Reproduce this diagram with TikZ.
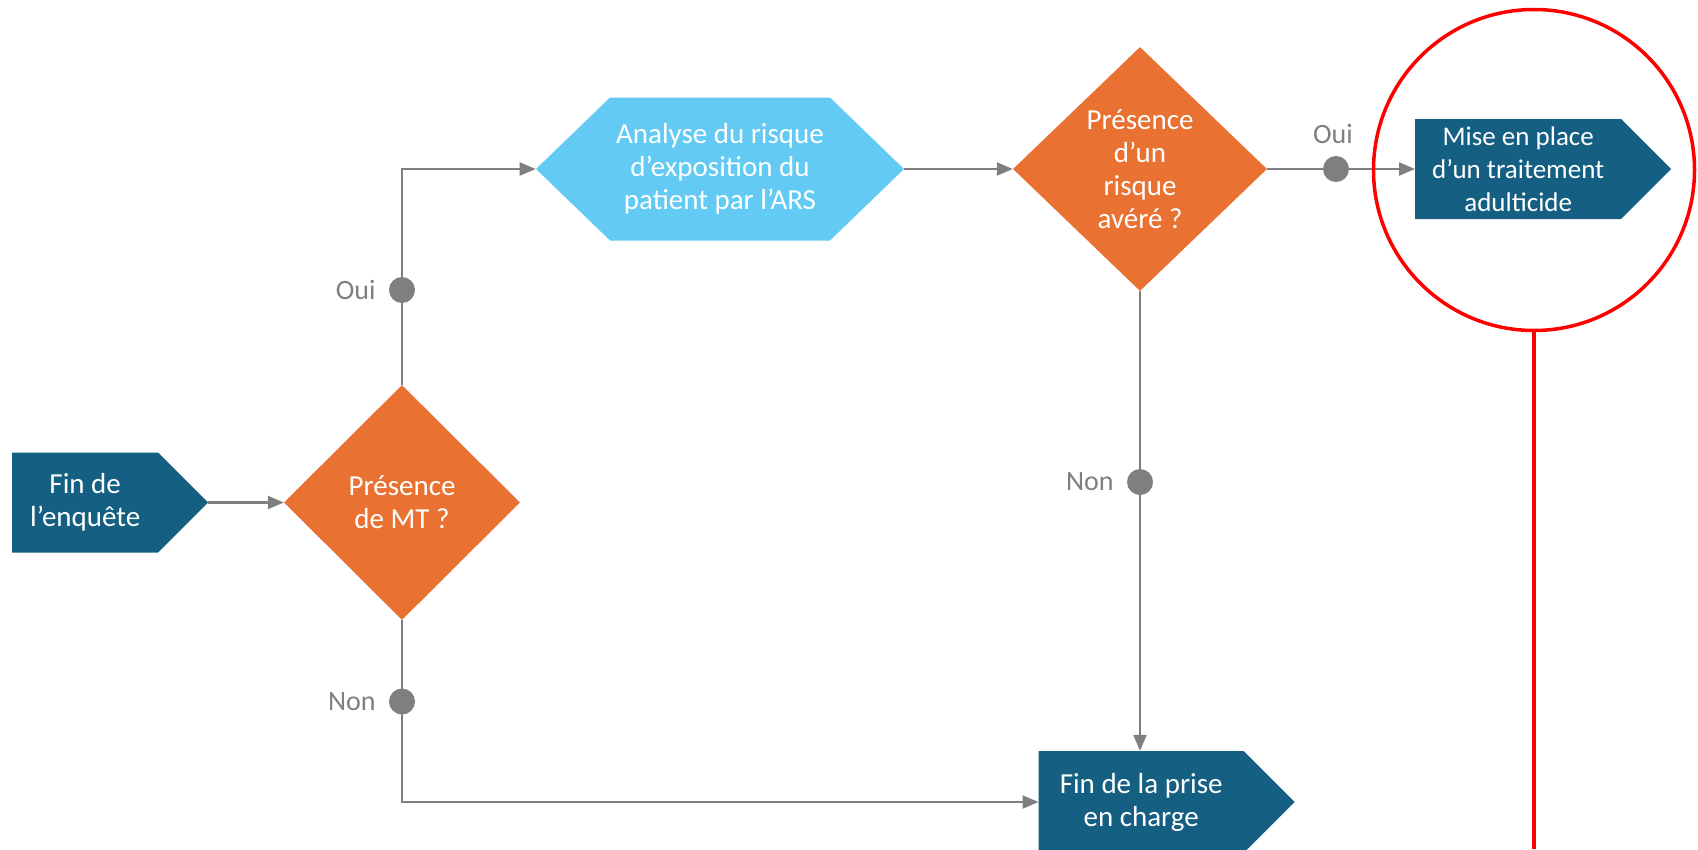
\documentclass[tikz,border=0pt]{standalone}
\usepackage{fontspec}
\setmainfont{Carlito}
\usetikzlibrary{arrows.meta, positioning, shapes.geometric, shapes.symbols}

\definecolor{navyacc}{HTML}{156082}
\definecolor{orangeacc}{HTML}{E97132}
\definecolor{skyacc}{HTML}{62CAF3}
\definecolor{linegray}{HTML}{7F7F7F}

\begin{document}
\begin{tikzpicture}[x=1pt, y=-1pt,
        every node/.style={font=\fontsize{29}{33}\selectfont},
        decision/.style={diamond, fill=orangeacc, text=white, align=center, inner sep=0pt},
        endbox/.style={signal, signal to=east, signal pointer angle=90, fill=navyacc, text=white, align=center, inner sep=0pt, minimum height=100pt},
        analysis/.style={signal, signal to=east and west, signal pointer angle=88, fill=skyacc, text=white, align=center, inner sep=0pt, minimum width=368pt, minimum height=143pt},
        flow/.style={draw=linegray, line width=2.2pt, -{Triangle[length=16pt, width=13pt]}},
        dot/.style={circle, fill=linegray, minimum size=26pt, inner sep=0pt},
        lbl/.style={text=linegray, inner sep=0pt, font=\fontsize{28}{33}\selectfont}]
        \useasboundingbox (0,0) rectangle (1698,849);

        % Start and decision on MT
        \node[endbox, anchor=west, minimum width=196pt] (fin) at (12,502.5) {Fin de\\l’enquête};
        \node[decision, minimum width=236pt, minimum height=235pt] (mt) at (402,502.5) {Présence\\de MT ?};

        % Risk analysis
        \node[analysis] (ars) at (720,169) {Analyse du risque\\d’exposition du\\patient par l’ARS};
        \node[decision, minimum width=254pt, minimum height=244pt] (risk) at (1140,169) {Présence\\d’un\\risque\\avéré ?};

        % Outcomes
        \node[endbox, anchor=west, minimum width=256pt, font=\fontsize{27}{33}\selectfont] (adult) at (1415,169) {Mise en place\\d’un traitement\\adulticide};
        \node[endbox, anchor=west, minimum width=256pt, minimum height=102pt] (stop) at (1038.5,802) {Fin de la prise\\en charge};

        % Yes / no markers
        \node[dot] (ouiA) at (402,290) {};
        \node[lbl, left=13pt of ouiA] {Oui};
        \node[dot] (nonA) at (402,701.5) {};
        \node[lbl, left=13pt of nonA] {Non};
        \node[dot] (ouiB) at (1336,169) {};
        \node[lbl, above=12pt of ouiB, xshift=-3pt] {Oui};
        \node[dot] (nonB) at (1140,482) {};
        \node[lbl, left=13pt of nonB] {Non};

        % Connectors
        \draw[flow] (fin.east) -- (mt.west);
        \draw[flow] (mt.north) -- (ouiA.center) |- (ars.west);
        \draw[flow] (ars.east) -- (risk.west);
        \draw[flow] (risk.east) -- (ouiB.center) -- (adult.west);
        \draw[flow] (risk.south) -- (nonB.center) -- (stop.north -| risk);
        \draw[flow] (mt.south) -- (nonA.center) |- (stop.west);

        % Highlight
        \node[circle, draw=red, line width=3.5pt, minimum size=321pt, inner sep=0pt] (focus) at (1534,170) {};
        \coordinate (focusend) at (1534,849);
        \draw[red, line width=3.5pt] (focus.south) -- (focusend);
\end{tikzpicture}
\end{document}
